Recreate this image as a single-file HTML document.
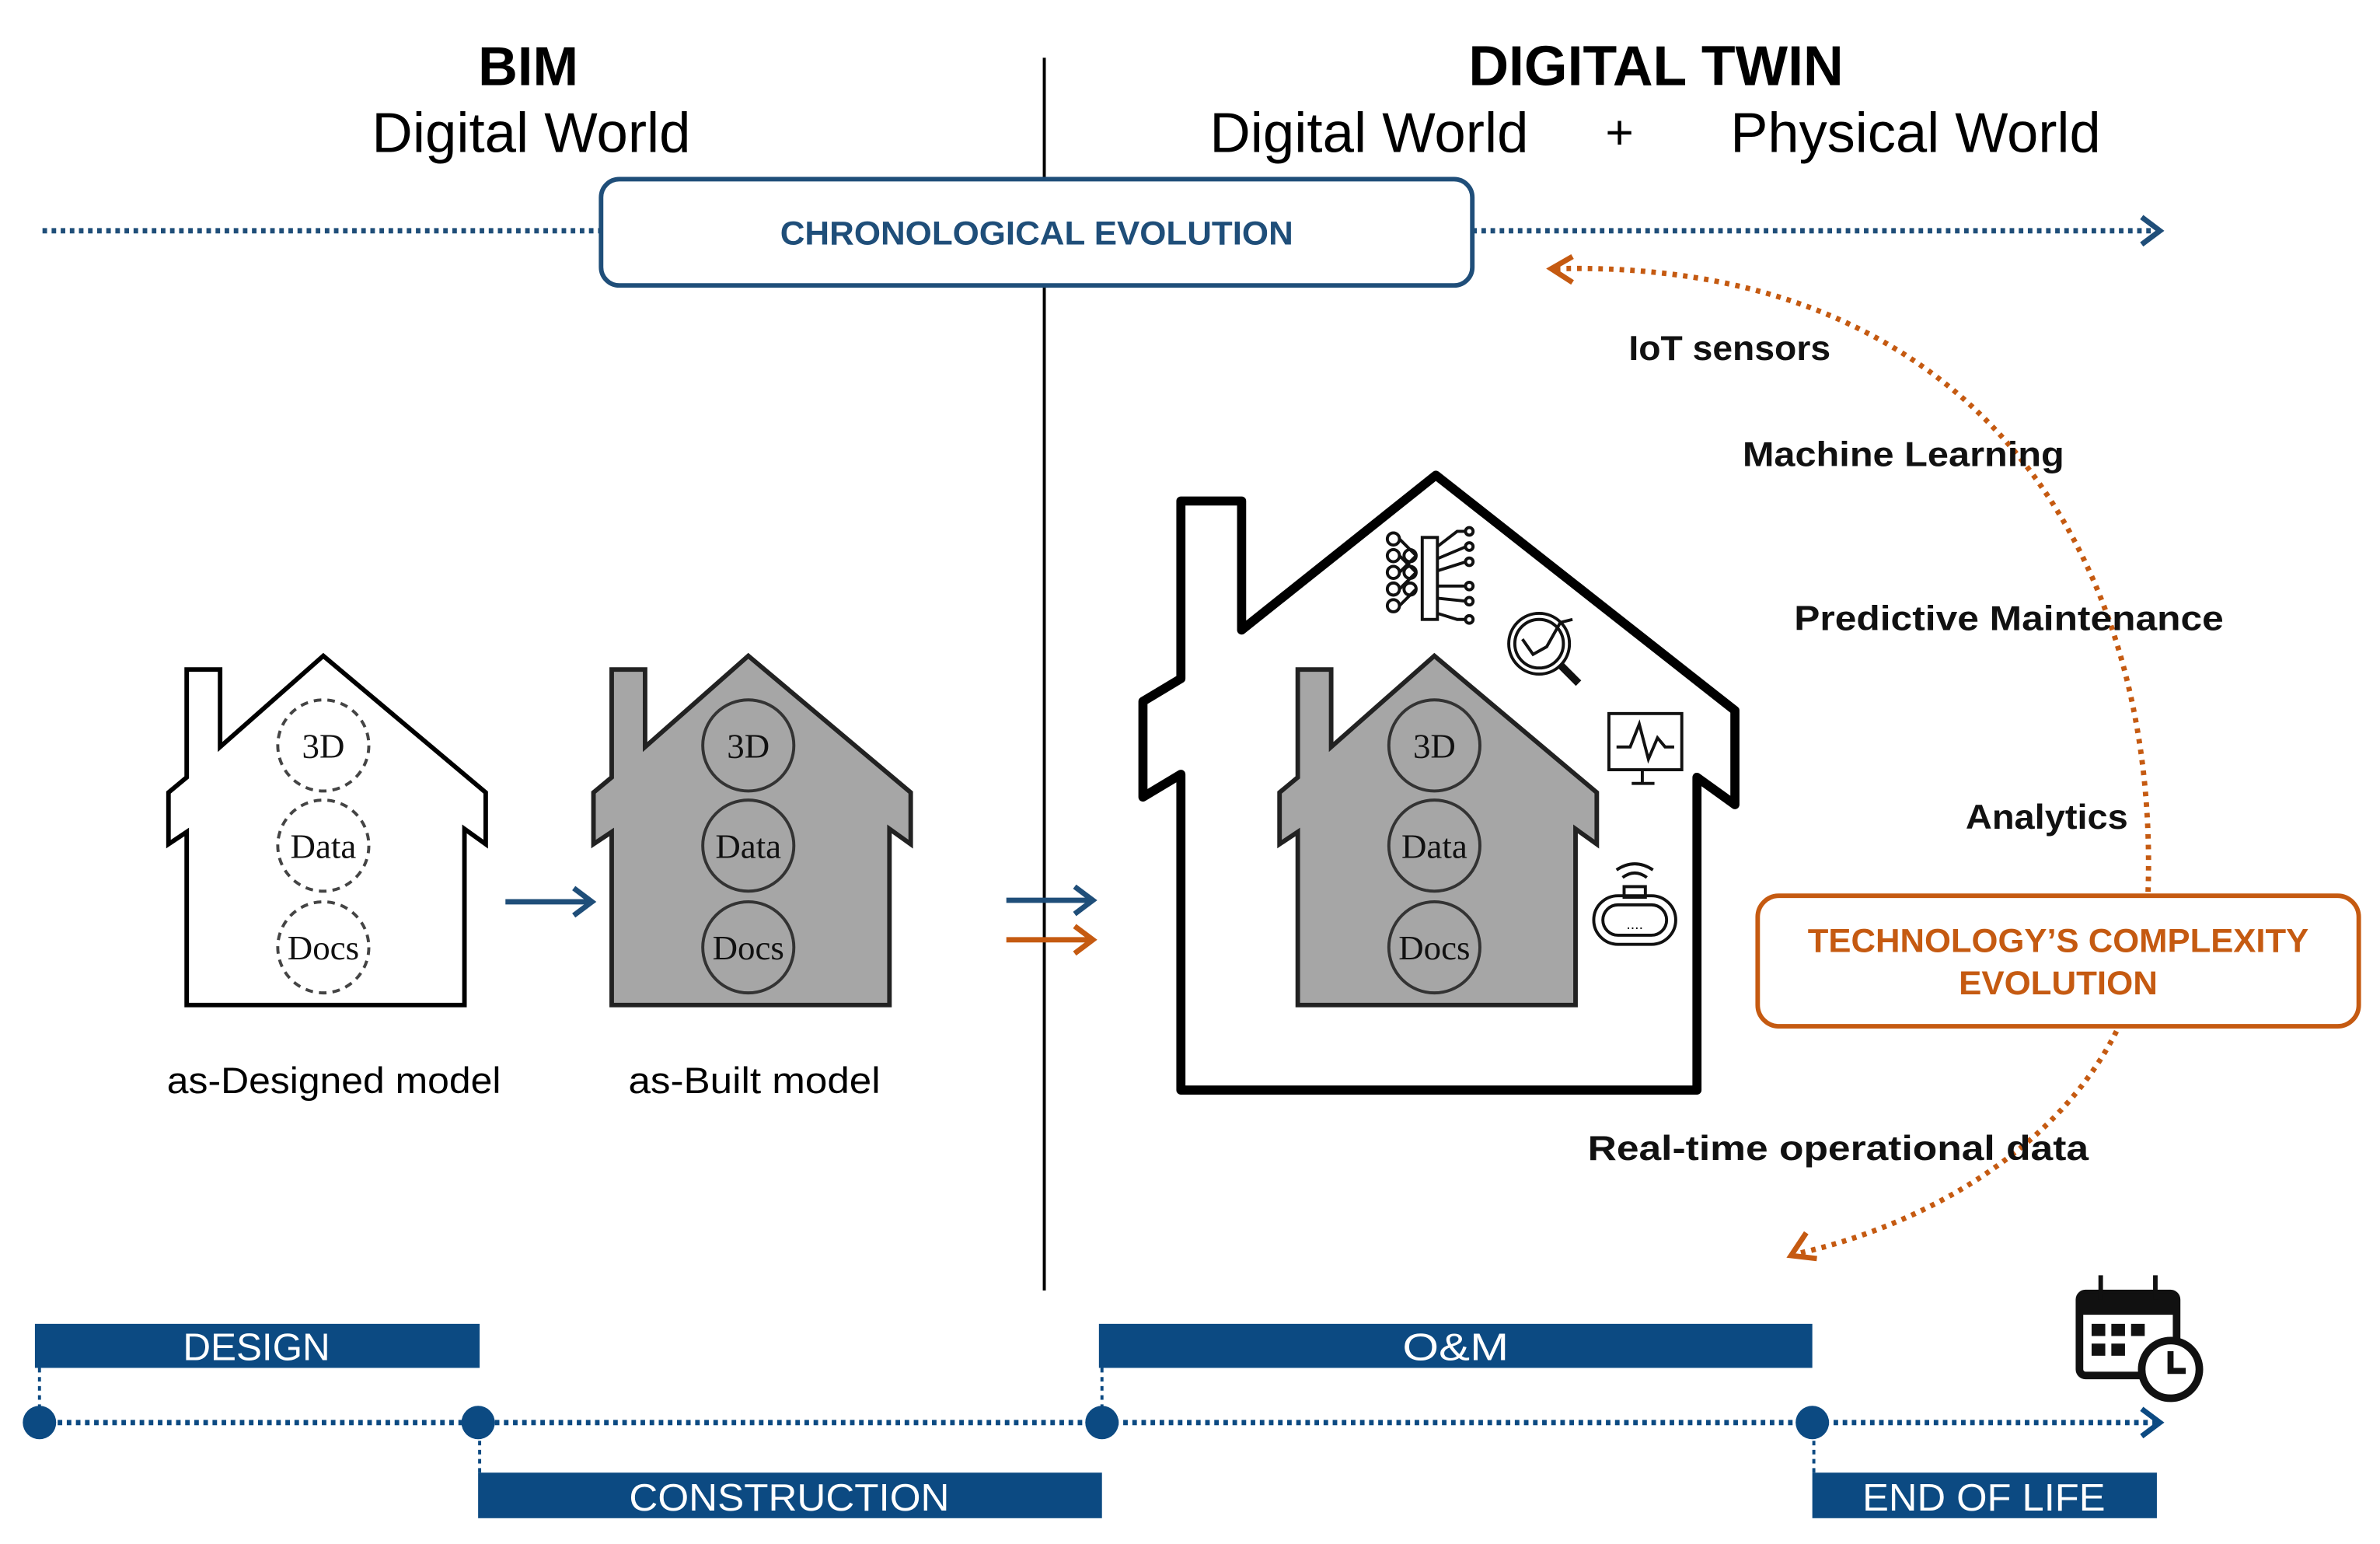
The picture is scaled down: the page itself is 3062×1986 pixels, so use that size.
<!DOCTYPE html>
<html><head><meta charset="utf-8"><style>
html,body{margin:0;padding:0;background:#fff;}
svg{display:block;}
.s{font-family:"Liberation Sans",sans-serif;}
.b{font-weight:bold;}
.r{font-family:"Liberation Serif",serif;}
</style></head><body>
<svg width="3062" height="1986" viewBox="0 0 1568 1017" xmlns="http://www.w3.org/2000/svg">
<defs>
<g id="sm"><path d="M123,662 L123,548 L111,556 L111,522 L123,512 L123,441 L145,441 L145,492 L213,432 L320,522 L320,556 L306,546 L306,662 Z"/></g>
</defs>
<rect width="1568" height="1017" fill="#fff"/>

<!-- headers -->
<text x="348" y="56" text-anchor="middle" class="s b" font-size="36" textLength="66" lengthAdjust="spacingAndGlyphs">BIM</text>
<text x="350" y="100" text-anchor="middle" class="s" font-size="37" textLength="210" lengthAdjust="spacingAndGlyphs">Digital World</text>
<text x="1091" y="56" text-anchor="middle" class="s b" font-size="37" textLength="247" lengthAdjust="spacingAndGlyphs">DIGITAL TWIN</text>
<text x="902" y="100" text-anchor="middle" class="s" font-size="37" textLength="210" lengthAdjust="spacingAndGlyphs">Digital World</text>
<text x="1067" y="98" text-anchor="middle" class="s" font-size="32">+</text>
<text x="1262" y="100" text-anchor="middle" class="s" font-size="37" textLength="244" lengthAdjust="spacingAndGlyphs">Physical World</text>

<line x1="688" y1="38" x2="688" y2="850" stroke="#000" stroke-width="2"/>

<!-- chronological line -->
<line x1="28" y1="152" x2="1420" y2="152" stroke="#1f4e79" stroke-width="3.5" stroke-dasharray="3,3"/>
<path d="M1411,143 L1423,152 L1411,161" fill="none" stroke="#1f4e79" stroke-width="3.5"/>

<!-- orange arc -->
<path d="M1025,177 C1320,170 1430,390 1414,610 C1405,720 1300,800 1183,826" fill="none" stroke="#c55a11" stroke-width="3.5" stroke-dasharray="3,4"/>
<path d="M1036,169 L1022,177 L1036,186" fill="none" stroke="#c55a11" stroke-width="3.5"/>
<path d="M1190,812 L1180,827 L1197,829" fill="none" stroke="#c55a11" stroke-width="3.5"/>

<rect x="396" y="118" width="574" height="70" rx="12" fill="#fff" stroke="#1f4e79" stroke-width="3"/>
<text x="683" y="161" text-anchor="middle" class="s b" font-size="22" fill="#1f4e79" textLength="338" lengthAdjust="spacingAndGlyphs">CHRONOLOGICAL EVOLUTION</text>

<g class="s b" font-size="23" fill="#111">
<text x="1073" y="237" textLength="133" lengthAdjust="spacingAndGlyphs">IoT sensors</text>
<text x="1148" y="307" textLength="212" lengthAdjust="spacingAndGlyphs">Machine Learning</text>
<text x="1182" y="415" textLength="283" lengthAdjust="spacingAndGlyphs">Predictive Maintenance</text>
<text x="1295" y="546" textLength="107" lengthAdjust="spacingAndGlyphs">Analytics</text>
<text x="1046" y="764" textLength="330" lengthAdjust="spacingAndGlyphs">Real-time operational   data</text>
</g>

<rect x="1158" y="590" width="396" height="86" rx="14" fill="#fff" stroke="#c55a11" stroke-width="3"/>
<text x="1356" y="627" text-anchor="middle" class="s b" font-size="22" fill="#c55a11" textLength="330" lengthAdjust="spacingAndGlyphs">TECHNOLOGY’S COMPLEXITY</text>
<text x="1356" y="655" text-anchor="middle" class="s b" font-size="22" fill="#c55a11" textLength="131" lengthAdjust="spacingAndGlyphs">EVOLUTION</text>

<!-- house 1 -->
<use href="#sm" fill="#fff" stroke="#000" stroke-width="3"/>
<g fill="none" stroke="#444" stroke-width="2" stroke-dasharray="5,4">
<circle cx="213" cy="491" r="30"/><circle cx="213" cy="557" r="30"/><circle cx="213" cy="624" r="30"/></g>
<g class="r" font-size="23" text-anchor="middle" fill="#111">
<text x="213" y="499">3D</text><text x="213" y="565">Data</text><text x="213" y="632">Docs</text></g>

<!-- house 2 -->
<use href="#sm" transform="translate(280,0)" fill="#a6a6a6" stroke="#222" stroke-width="3"/>
<g fill="none" stroke="#333" stroke-width="2">
<circle cx="493" cy="491" r="30"/><circle cx="493" cy="557" r="30"/><circle cx="493" cy="624" r="30"/></g>
<g class="r" font-size="23" text-anchor="middle" fill="#111">
<text x="493" y="499">3D</text><text x="493" y="565">Data</text><text x="493" y="632">Docs</text></g>

<text x="220" y="720" text-anchor="middle" class="s" font-size="24" textLength="220" lengthAdjust="spacingAndGlyphs">as-Designed model</text>
<text x="497" y="720" text-anchor="middle" class="s" font-size="24" textLength="166" lengthAdjust="spacingAndGlyphs">as-Built model</text>

<!-- arrows -->
<line x1="333" y1="594" x2="388" y2="594" stroke="#1f4e79" stroke-width="3.5"/>
<path d="M378,585 L390,594 L378,603" fill="none" stroke="#1f4e79" stroke-width="3.5"/>
<line x1="663" y1="593" x2="718" y2="593" stroke="#1f4e79" stroke-width="3.5"/>
<path d="M708,584 L720,593 L708,602" fill="none" stroke="#1f4e79" stroke-width="3.5"/>
<line x1="663" y1="619" x2="718" y2="619" stroke="#c55a11" stroke-width="3.5"/>
<path d="M708,610 L720,619 L708,628" fill="none" stroke="#c55a11" stroke-width="3.5"/>

<!-- big house -->
<path d="M778,718 L778,510 L753,525 L753,462 L778,447 L778,330 L818,330 L818,415 L946,313 L1143,468 L1143,530 L1118,512 L1118,718 Z" fill="#fff" stroke="#000" stroke-width="6" stroke-linejoin="round"/>
<use href="#sm" transform="translate(732,0)" fill="#a6a6a6" stroke="#222" stroke-width="3"/>
<g fill="none" stroke="#333" stroke-width="2">
<circle cx="945" cy="491" r="30"/><circle cx="945" cy="557" r="30"/><circle cx="945" cy="624" r="30"/></g>
<g class="r" font-size="23" text-anchor="middle" fill="#111">
<text x="945" y="499">3D</text><text x="945" y="565">Data</text><text x="945" y="632">Docs</text></g>

<!-- icons -->
<g fill="none" stroke="#111" stroke-width="2">
<rect x="937" y="354" width="10" height="54"/>
<circle cx="918" cy="355" r="4"/><circle cx="918" cy="366" r="4"/><circle cx="918" cy="377" r="4"/><circle cx="918" cy="388" r="4"/><circle cx="918" cy="399" r="4"/>
<circle cx="929" cy="366" r="4"/><circle cx="929" cy="377" r="4"/><circle cx="929" cy="388" r="4"/>
<path d="M922,355 L933,366 M922,366 L933,377 M922,388 L933,377 M922,399 L933,388 M922,377 L933,366"/>
<path d="M947,360 L960,350 L966,350 M947,368 L966,360 M947,376 L966,370 M947,386 L966,386 M947,394 L966,396 M947,404 L960,408 L966,408"/>
<circle cx="968" cy="350" r="2.5"/><circle cx="968" cy="360" r="2.5"/><circle cx="968" cy="370" r="2.5"/><circle cx="968" cy="386" r="2.5"/><circle cx="968" cy="396" r="2.5"/><circle cx="968" cy="408" r="2.5"/>
<circle cx="1014" cy="424" r="20"/><circle cx="1014" cy="424" r="16"/>
<path d="M1028,438 L1040,450" stroke-width="5"/>
<path d="M1003,421 L1010,431 L1019,426 L1028,410 L1036,408"/>
<rect x="1060" y="470" width="48" height="37"/>
<path d="M1065,492 L1074,492 L1080,477 L1086,500 L1092,486 L1097,492 L1103,492"/>
<path d="M1082,507 L1082,515 M1075,516 L1090,516"/>
<rect x="1050" y="590" width="54" height="32" rx="16"/><rect x="1056" y="596" width="42" height="20" rx="10"/>
<rect x="1070" y="584" width="14" height="7"/>
<path d="M1069,578 Q1077,572 1085,578 M1065,573 Q1077,565 1089,573"/>
<text x="1077" y="612" class="s" font-size="10" text-anchor="middle" stroke="none" fill="#111">....</text>
</g>

<!-- timeline -->
<g fill="#0c4a82">
<rect x="23" y="872" width="293" height="29"/>
<rect x="724" y="872" width="470" height="29"/>
<rect x="315" y="970" width="411" height="30"/>
<rect x="1194" y="970" width="227" height="30"/>
</g>
<g class="s" font-size="25" fill="#fff" text-anchor="middle">
<text x="169" y="896" textLength="97" lengthAdjust="spacingAndGlyphs">DESIGN</text>
<text x="959" y="896" textLength="70" lengthAdjust="spacingAndGlyphs">O&amp;M</text>
<text x="520" y="995" textLength="211" lengthAdjust="spacingAndGlyphs">CONSTRUCTION</text>
<text x="1307" y="995" textLength="160" lengthAdjust="spacingAndGlyphs">END OF LIFE</text>
</g>
<g stroke="#0c4a82" stroke-width="2" stroke-dasharray="3,3">
<line x1="26" y1="901" x2="26" y2="937"/><line x1="726" y1="901" x2="726" y2="937"/>
<line x1="316" y1="937" x2="316" y2="970"/><line x1="1195" y1="937" x2="1195" y2="970"/>
</g>
<line x1="26" y1="937" x2="1420" y2="937" stroke="#0c4a82" stroke-width="3.5" stroke-dasharray="3,3"/>
<path d="M1411,928 L1423,937 L1411,946" fill="none" stroke="#0c4a82" stroke-width="3.5"/>
<g fill="#0c4a82"><circle cx="26" cy="937" r="11"/><circle cx="315" cy="937" r="11"/><circle cx="726" cy="937" r="11"/><circle cx="1194" cy="937" r="11"/></g>

<!-- calendar -->
<rect x="1370" y="852" width="64" height="54" rx="4" fill="none" stroke="#111" stroke-width="5"/>
<rect x="1370" y="852" width="64" height="14" fill="#111"/>
<path d="M1384,840 L1384,856 M1420,840 L1420,856" fill="none" stroke="#111" stroke-width="3"/>
<g fill="#111">
<rect x="1378" y="872" width="9" height="8"/><rect x="1391" y="872" width="9" height="8"/><rect x="1404" y="872" width="9" height="8"/>
<rect x="1378" y="885" width="9" height="8"/><rect x="1391" y="885" width="9" height="8"/>
</g>
<circle cx="1430" cy="902" r="19" fill="#fff" stroke="#111" stroke-width="5"/>
<path d="M1430,890 L1430,903 L1440,903" fill="none" stroke="#111" stroke-width="4"/>
</svg>
</body></html>
